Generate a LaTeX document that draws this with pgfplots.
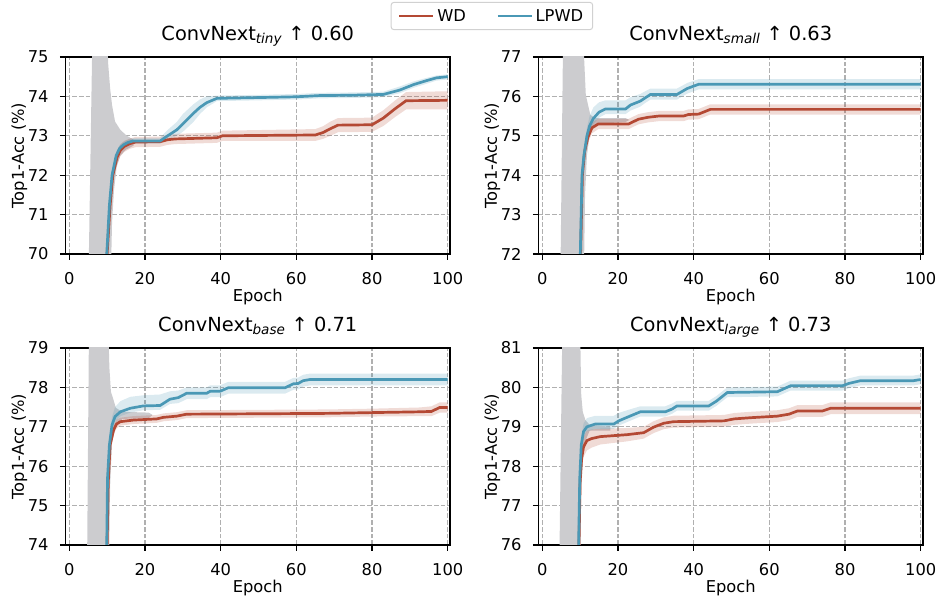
\documentclass[border=0pt]{standalone}
\usepackage{fontspec}
\setmainfont{DejaVu Sans}
\usepackage{pgfplots}
\pgfplotsset{compat=1.18}
\usepackage{pgfplotstable}

\definecolor{wdc}{RGB}{180,73,52}
\definecolor{lpc}{RGB}{74,152,181}
\definecolor{grayband}{RGB}{204,204,207}
\definecolor{gridc}{RGB}{176,176,176}

% ---------------- ConvNext tiny
\pgfplotstableread{
x y
9 40
10 70
10.8 71.24
11.5 72.0
12.6 72.45
13.5 72.63
14.5 72.73
16 72.8
17.5 72.84
24 72.85
26 72.9
28 72.92
39 72.95
40.5 73.0
65 73.02
67 73.08
69 73.18
71 73.27
80 73.28
83 73.45
86 73.68
89 73.89
100 73.9
}\tinyWD
\pgfplotstableread{
x y
9 40
9.9 70
10.6 71.24
11.3 72.0
12.4 72.5
13.3 72.68
14.3 72.77
15.5 72.83
16.9 72.87
24 72.87
26 73.0
28.4 73.15
30 73.3
32.8 73.57
34.5 73.72
36.3 73.84
39 73.95
50 73.97
60 73.99
66 74.02
75 74.03
83 74.05
87.3 74.16
91 74.3
94.4 74.4
97 74.47
100 74.5
}\tinyLP

% ---------------- ConvNext small
\pgfplotstableread{
x y
9 40
10 71.5
10.6 74.0
11.2 74.6
12 74.95
13.1 75.2
14.8 75.3
22.8 75.3
25.4 75.42
28 75.47
30.7 75.5
37.3 75.5
38.6 75.54
41.3 75.55
44.4 75.67
100 75.67
}\smallWD
\pgfplotstableread{
x y
9 40
10 71.8
10.5 74.0
11 74.5
11.8 75.0
12.5 75.25
13.5 75.44
15 75.6
16.7 75.68
22 75.68
23.3 75.78
25.9 75.88
27 75.95
28.6 76.05
35.6 76.05
38.3 76.2
41.4 76.31
100 76.31
}\smallLP

% ---------------- ConvNext base
\pgfplotstableread{
x y
9 40
10 74
10.3 75.6
10.8 76.54
11.7 76.92
12.5 77.07
13.5 77.13
16.9 77.17
23.1 77.2
24.9 77.24
28.4 77.27
31 77.32
50 77.33
68 77.34
80 77.36
92.6 77.38
95.7 77.39
97.9 77.49
100 77.49
}\baseWD
\pgfplotstableread{
x y
9 40
9.9 74
10.1 75.69
10.6 76.54
11.3 77.05
12.1 77.26
13.5 77.38
16.1 77.47
19.6 77.53
24 77.54
26.6 77.7
28.8 77.74
31 77.85
36.3 77.85
37.2 77.9
39.8 77.9
42 77.99
57 77.99
59.2 78.09
60.5 78.1
61.8 78.17
63.6 78.2
100 78.2
}\baseLP

% ---------------- ConvNext large
\pgfplotstableread{
x y
9 40
9.7 76
10.0 77.6
10.4 78.2
10.9 78.49
11.8 78.65
13 78.7
15.3 78.75
22.4 78.8
26.8 78.85
29.4 78.99
32.1 79.09
34.7 79.13
48 79.15
50.7 79.2
55 79.23
62.1 79.27
65.2 79.32
67.4 79.4
74 79.4
76.2 79.47
100 79.47
}\largeWD
\pgfplotstableread{
x y
9 40
9.6 76
9.9 77.69
10.3 78.54
10.9 78.88
11.8 79.0
14 79.07
18.9 79.07
20.2 79.15
22.4 79.24
25.9 79.38
32.5 79.38
34.3 79.45
35.6 79.53
44 79.53
46 79.65
48.9 79.87
62.1 79.89
65.6 80.04
79.3 80.04
81 80.1
84.1 80.17
98.1 80.17
100 80.2
}\largeLP

\pgfplotsset{
  panel/.style={
    scale only axis, width=384.5pt, height=197pt,
    xmin=-1, xmax=100.6,
    xtick={0,20,...,100}, ytick distance=1,
    tick pos=left, tick align=outside,
    major tick length=5.6pt,
    every tick/.style={black, line width=1.3pt},
    axis line style={line width=1.3pt},
    grid=major,
    major grid style={gridc, line width=1.1pt, dash pattern=on 4.7pt off 2pt},
    /pgf/number format/assume math mode=true,
    tick label style={font=\fontsize{16.3}{19}\selectfont},
    xticklabel style={anchor=base, yshift=-24.5pt},
    yticklabel style={anchor=east, inner sep=0pt, xshift=-11.2pt},
    label style={font=\fontsize{16.3}{19}\selectfont},
    xlabel={Epoch},
    ylabel={Top1-Acc (\%)},
    xlabel style={at={(axis description cs:0.5,-0.242)}, anchor=base},
    ylabel style={at={(axis description cs:-0.108,0.5)}, anchor=base},
    title style={at={(axis description cs:0.5,1.052)}, anchor=base,
      font=\fontsize{19.4}{23}\selectfont},
  },
}

% #1 WD line, #2 LPWD line, #3 grey region, #4 WD band, #5 LPWD band
\newcommand{\panelplots}[5]{%
  \addplot[fill=grayband, draw=none, forget plot] coordinates {#3};
  \addplot[fill=wdc, fill opacity=0.2, draw=none, forget plot] coordinates {#4};
  \addplot[fill=lpc, fill opacity=0.2, draw=none, forget plot] coordinates {#5};
  \addplot[wdc, line width=2.7pt] table[x=x,y=y] {#1};
  \addplot[lpc, line width=2.7pt] table[x=x,y=y] {#2};
}

\begin{document}
\begin{tikzpicture}
\useasboundingbox (0pt,0pt) rectangle (938pt,-599pt);

\begin{axis}[panel, at={(65.5pt,-57pt)}, anchor=north west,
  ymin=70, ymax=75,
  title={ConvNext\textsubscript{\textit{tiny}} ↑ 0.60},
  legend entries={WD,LPWD}, legend columns=2,
  legend image code/.code={\draw[#1, line width=2.7pt] (0pt,0pt) -- (34pt,0pt);},
  legend style={at={(1.109,1.208)}, anchor=center, draw=black!18,
    rounded corners=3pt, line width=1pt, inner xsep=7pt, inner ysep=4.5pt,
    font=\fontsize{16.3}{19}\selectfont,
    nodes={inner sep=2.5pt},
    /tikz/every even column/.append style={column sep=28pt}},
]
\panelplots{\tinyWD}{\tinyLP}
{(5.1,69.5) (6.1,75.5) (10.0,75.5) (10.3,74.8) (10.8,74.2) (11.3,73.78) (12.1,73.36) (13.5,73.15) (15.2,73.0) (17,72.9) (17,72.75) (15,72.65) (13.5,72.5) (12.5,72.2) (11.8,71.6) (11.3,70.8) (11.0,69.5)}
{(9,40.2)(10,70.2)(10.8,71.45)(11.5,72.2)(12.6,72.62)(13.5,72.78)(14.5,72.87)(16,72.93)(17.5,72.97)(24,72.98)(26,73.03)(28,73.05)(39,73.08)(40.5,73.13)(65,73.17)(67,73.24)(69,73.36)(71,73.45)(80,73.46)(83,73.65)(86,73.89)(89,74.11)(100,74.13)
 (100,73.67)(89,73.67)(86,73.47)(83,73.25)(80,73.1)(71,73.09)(69,73.0)(67,72.92)(65,72.87)(40.5,72.87)(39,72.82)(28,72.79)(26,72.77)(24,72.72)(17.5,72.71)(16,72.67)(14.5,72.59)(13.5,72.48)(12.6,72.28)(11.5,71.8)(10.8,71.05)(10,69.8)(9,39.8)}
{(9,40.1)(9.9,70.1)(10.6,71.34)(11.3,72.1)(12.4,72.58)(13.3,72.76)(14.3,72.84)(15.5,72.9)(16.9,72.94)(24,72.95)(26,73.15)(28.4,73.35)(30,73.55)(32.8,73.8)(34.5,73.92)(36.3,74.0)(39,74.02)(50,74.04)(60,74.06)(66,74.09)(75,74.1)(83,74.12)(87.3,74.25)(91,74.38)(94.4,74.47)(97,74.53)(100,74.56)
 (100,74.43)(97,74.4)(94.4,74.32)(91,74.22)(87.3,74.08)(83,73.98)(75,73.96)(66,73.95)(60,73.92)(50,73.9)(39,73.88)(36.3,73.72)(34.5,73.55)(32.8,73.35)(30,73.1)(28.4,73.0)(26,72.9)(24,72.8)(16.9,72.8)(15.5,72.76)(14.3,72.7)(13.3,72.6)(12.4,72.42)(11.3,71.9)(10.6,71.14)(9.9,69.9)(9,39.9)}
\end{axis}

\begin{axis}[panel, at={(538.5pt,-57pt)}, anchor=north west,
  ymin=72, ymax=77,
  title={ConvNext\textsubscript{\textit{small}} ↑ 0.63},
]
\panelplots{\smallWD}{\smallLP}
{(4.8,71.5) (5.5,77.5) (10.8,77.5) (11.5,76.04) (12.1,75.78) (12.7,75.53) (14,75.45) (22,75.45) (23,75.4) (22,75.35) (14,75.3) (12.5,75.0) (11.8,74.5) (11.3,73.5) (11.0,71.5)}
{(9,40.1)(10,71.6)(10.6,74.15)(11.2,74.75)(12,75.1)(13.1,75.34)(14.8,75.43)(22.8,75.43)(25.4,75.55)(28,75.6)(30.7,75.63)(37.3,75.63)(38.6,75.67)(41.3,75.68)(44.4,75.8)(100,75.8)
 (100,75.54)(44.4,75.54)(41.3,75.42)(38.6,75.41)(37.3,75.37)(30.7,75.37)(28,75.34)(25.4,75.29)(22.8,75.17)(14.8,75.17)(13.1,75.06)(12,74.8)(11.2,74.45)(10.6,73.85)(10,71.4)(9,39.9)}
{(9,40.1)(10,71.9)(10.5,74.15)(11,74.65)(11.8,75.2)(12.5,75.5)(13.5,75.72)(15,75.85)(16.7,75.9)(22,75.9)(23.3,75.98)(25.9,76.06)(27,76.12)(28.6,76.2)(35.6,76.2)(38.3,76.34)(41.4,76.44)(100,76.44)
 (100,76.18)(41.4,76.18)(38.3,76.07)(35.6,75.92)(28.6,75.92)(27,75.82)(25.9,75.74)(23.3,75.64)(22,75.55)(16.7,75.55)(15,75.46)(13.5,75.3)(12.5,75.1)(11.8,74.85)(11,74.35)(10.5,73.85)(10,71.7)(9,39.9)}
\end{axis}

\begin{axis}[panel, at={(65.5pt,-348pt)}, anchor=north west,
  ymin=74, ymax=79,
  title={ConvNext\textsubscript{\textit{base}} ↑ 0.71},
]
\panelplots{\baseWD}{\baseLP}
{(4.7,73.5) (5.2,79.5) (10.3,79.5) (10.6,78.5) (11.0,77.89) (11.7,77.68) (12.3,77.48) (14,77.38) (21,77.36) (22,77.3) (21,77.22) (14,77.2) (12.3,77.0) (11.3,76.6) (10.8,75.5) (10.5,73.5)}
{(9,40.1)(10,74.1)(10.3,75.75)(10.8,76.68)(11.7,77.04)(12.5,77.18)(13.5,77.23)(16.9,77.27)(23.1,77.3)(24.9,77.34)(28.4,77.37)(31,77.42)(50,77.43)(68,77.44)(80,77.46)(92.6,77.49)(95.7,77.52)(97.9,77.62)(100,77.62)
 (100,77.36)(97.9,77.36)(95.7,77.27)(92.6,77.27)(80,77.26)(68,77.24)(50,77.23)(31,77.22)(28.4,77.17)(24.9,77.14)(23.1,77.1)(16.9,77.07)(13.5,77.03)(12.5,76.96)(11.7,76.8)(10.8,76.4)(10.3,75.45)(10,73.9)(9,39.9)}
{(9,40.1)(9.9,74.1)(10.1,75.85)(10.6,76.7)(11.3,77.25)(12.1,77.5)(13.5,77.65)(16.1,77.76)(19.6,77.8)(24,77.82)(26.6,77.9)(28.8,77.92)(31,78.0)(36.3,78.0)(37.2,78.05)(39.8,78.05)(42,78.14)(57,78.14)(59.2,78.24)(60.5,78.25)(61.8,78.32)(63.6,78.35)(100,78.35)
 (100,78.05)(63.6,78.05)(61.8,78.02)(60.5,77.95)(59.2,77.94)(57,77.84)(42,77.84)(39.8,77.75)(37.2,77.75)(36.3,77.7)(31,77.7)(28.8,77.6)(26.6,77.58)(24,77.43)(19.6,77.42)(16.1,77.36)(13.5,77.27)(12.1,77.14)(11.3,76.92)(10.6,76.4)(10.1,75.55)(9.9,73.9)(9,39.9)}
\end{axis}

\begin{axis}[panel, at={(538.5pt,-348pt)}, anchor=north west,
  ymin=76, ymax=81,
  title={ConvNext\textsubscript{\textit{large}} ↑ 0.73},
]
\panelplots{\largeWD}{\largeLP}
{(4.5,75.5) (5.3,81.5) (10.0,81.5) (10.2,80.3) (10.3,79.8) (10.7,79.38) (11.4,79.17) (12.5,79.05) (18,79.0) (18,78.9) (12.5,78.9) (11.2,78.6) (10.6,78.0) (10.2,77.0) (10.05,75.5)}
{(9,40.1)(9.7,76.15)(10.0,77.8)(10.4,78.45)(10.9,78.74)(11.8,78.9)(13,78.93)(15.3,78.95)(22.4,78.97)(26.8,79.0)(29.4,79.14)(32.1,79.24)(34.7,79.28)(48,79.3)(50.7,79.35)(55,79.38)(62.1,79.42)(65.2,79.47)(67.4,79.55)(74,79.55)(76.2,79.62)(100,79.62)
 (100,79.32)(76.2,79.32)(74,79.25)(67.4,79.25)(65.2,79.17)(62.1,79.12)(55,79.08)(50.7,79.05)(48,79.0)(34.7,78.98)(32.1,78.94)(29.4,78.84)(26.8,78.7)(22.4,78.63)(15.3,78.55)(13,78.47)(11.8,78.4)(10.9,78.24)(10.4,77.95)(10.0,77.4)(9.7,75.85)(9,39.9)}
{(9,40.1)(9.6,76.1)(9.9,77.85)(10.3,78.72)(10.9,79.08)(11.8,79.22)(14,79.28)(18.9,79.28)(20.2,79.35)(22.4,79.42)(25.9,79.52)(32.5,79.52)(34.3,79.59)(35.6,79.66)(44,79.66)(46,79.78)(48.9,80.0)(62.1,80.02)(65.6,80.17)(79.3,80.17)(81,80.23)(84.1,80.3)(98.1,80.3)(100,80.33)
 (100,80.08)(98.1,80.05)(84.1,80.05)(81,79.98)(79.3,79.92)(65.6,79.92)(62.1,79.77)(48.9,79.75)(46,79.53)(44,79.41)(35.6,79.41)(34.3,79.33)(32.5,79.26)(25.9,79.26)(22.4,79.12)(20.2,79.03)(18.9,78.95)(14,78.95)(11.8,78.88)(10.9,78.75)(10.3,78.4)(9.9,77.55)(9.6,75.9)(9,39.9)}
\end{axis}
\end{tikzpicture}
\end{document}
